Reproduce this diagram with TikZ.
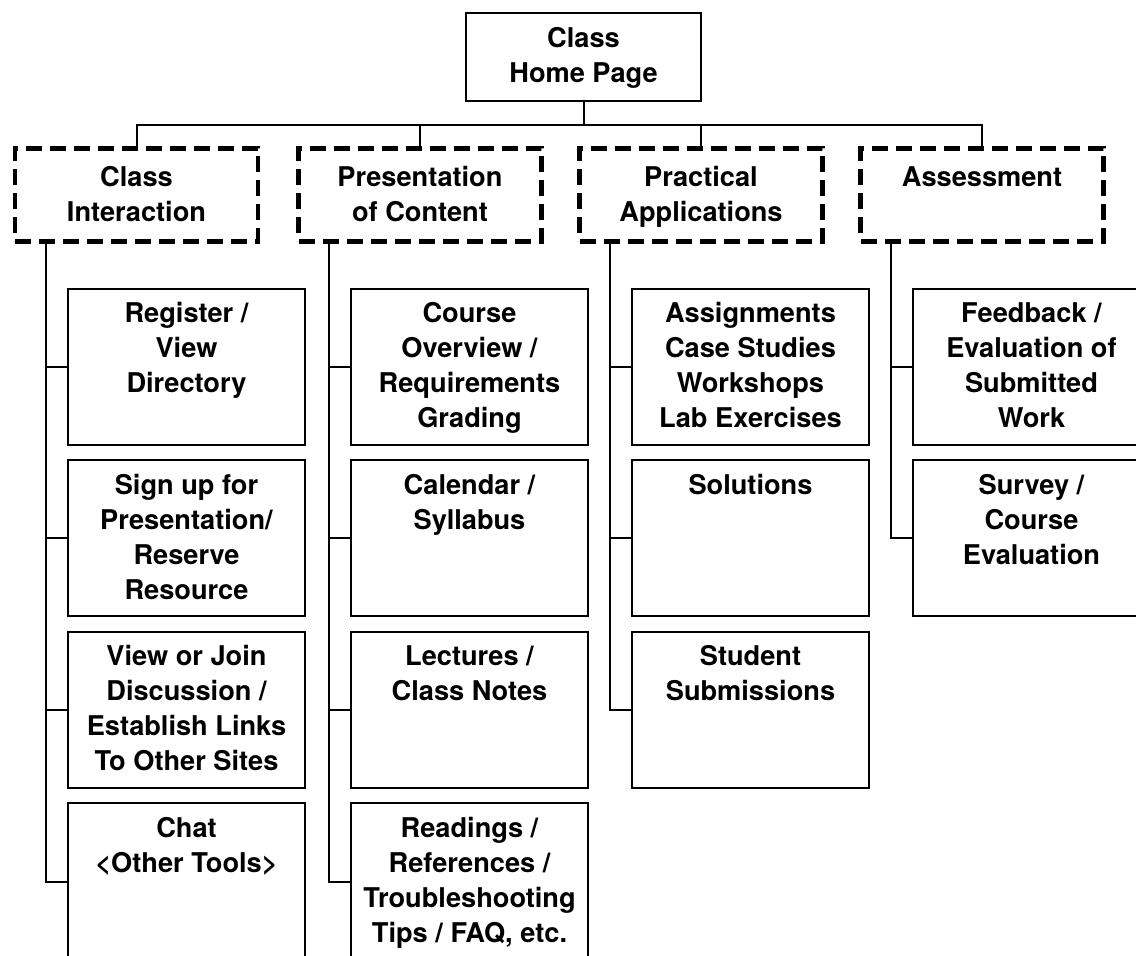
\documentclass[tikz,border=0pt]{standalone}
\usepackage{fontspec}
\setmainfont{TeX Gyre Heros}

\tikzset{
  every node/.style={font=\fontsize{13.6pt}{17.5pt}\selectfont\bfseries},
  home/.style={draw, line width=1pt, inner sep=0pt},
  section/.style={draw, line width=2.4pt, dash pattern=on 8pt off 4pt, inner sep=0pt},
  page/.style={draw, line width=1pt, inner sep=0pt},
  link/.style={line width=1pt}
}
\newcommand{\hometext}[1]{\parbox[c][44pt][t]{117.5pt}{\centering\vspace*{5pt}\strut#1}}
\newcommand{\sectiontext}[1]{\parbox[c][46.5pt][t]{121.5pt}{\centering\vspace*{7pt}\strut#1}}
\newcommand{\pagetext}[1]{\parbox[c][78pt][t]{118.5pt}{\centering\vspace*{4.75pt}\strut#1}}

\begin{document}
\begin{tikzpicture}[x=0.5pt, y=-0.5pt]
\useasboundingbox (0,0) rectangle (1136,956);
\fill[white] (0,0) rectangle (1136,956);
\clip (0,0) rectangle (1136,956);

% home page
\node[home] (root) at (583.5,57) {\hometext{Class\\Home Page}};

% sections
\node[section] (ci) at (136.5,195) {\sectiontext{Class\\Interaction}};
\node[section] (pc) at (420,195) {\sectiontext{Presentation\\of Content}};
\node[section] (pa) at (701,195) {\sectiontext{Practical\\Applications}};
\node[section] (as) at (982,195) {\sectiontext{Assessment}};

% class interaction pages
\node[page] (ci1) at (186.5,367) {\pagetext{Register /\\View\\Directory}};
\node[page] (ci2) at (186.5,538.5) {\pagetext{Sign up for\\Presentation/\\Reserve\\Resource}};
\node[page] (ci3) at (186.5,710) {\pagetext{View or Join\\Discussion /\\Establish Links\\To Other Sites}};
\node[page] (ci4) at (186.5,881.5) {\pagetext{Chat\\<Other Tools>}};

% presentation pages
\node[page] (pc1) at (469.5,367) {\pagetext{Course\\Overview /\\Requirements\\Grading}};
\node[page] (pc2) at (469.5,538.5) {\pagetext{Calendar /\\Syllabus}};
\node[page] (pc3) at (469.5,710) {\pagetext{Lectures /\\Class Notes}};
\node[page] (pc4) at (469.5,881.5) {\pagetext{Readings /\\References /\\Troubleshooting\\Tips / FAQ, etc.}};

% practical pages
\node[page] (pa1) at (750.5,367) {\pagetext{Assignments\\Case Studies\\Workshops\\Lab Exercises}};
\node[page] (pa2) at (750.5,538.5) {\pagetext{Solutions}};
\node[page] (pa3) at (750.5,710) {\pagetext{Student\\Submissions}};

% assessment pages
\node[page] (as1) at (1031.5,367) {\pagetext{Feedback /\\Evaluation of\\Submitted\\Work}};
\node[page] (as2) at (1031.5,538.5) {\pagetext{Survey /\\Course\\Evaluation}};

% bus
\coordinate (bus) at (0,125);
\draw[link] (root.south) -- (root.south |- bus);
\draw[link] (ci.north) -- (ci.north |- bus) -- (as.north |- bus) -- (as.north);
\draw[link] (pc.north) -- (pc.north |- bus);
\draw[link] (pa.north) -- (pa.north |- bus);

% trunks
\coordinate (ci top) at ([xshift=-45.5pt]ci.south);
\coordinate (pc top) at ([xshift=-45.5pt]pc.south);
\coordinate (pa top) at ([xshift=-45.5pt]pa.south);
\coordinate (as top) at ([xshift=-45.5pt]as.south);

\draw[link] (ci top) |- (ci4.west);
\draw[link] (ci1.west) -- (ci1.west -| ci top);
\draw[link] (ci2.west) -- (ci2.west -| ci top);
\draw[link] (ci3.west) -- (ci3.west -| ci top);

\draw[link] (pc top) |- (pc4.west);
\draw[link] (pc1.west) -- (pc1.west -| pc top);
\draw[link] (pc2.west) -- (pc2.west -| pc top);
\draw[link] (pc3.west) -- (pc3.west -| pc top);

\draw[link] (pa top) |- (pa3.west);
\draw[link] (pa1.west) -- (pa1.west -| pa top);
\draw[link] (pa2.west) -- (pa2.west -| pa top);

\draw[link] (as top) |- (as2.west);
\draw[link] (as1.west) -- (as1.west -| as top);

\end{tikzpicture}
\end{document}
